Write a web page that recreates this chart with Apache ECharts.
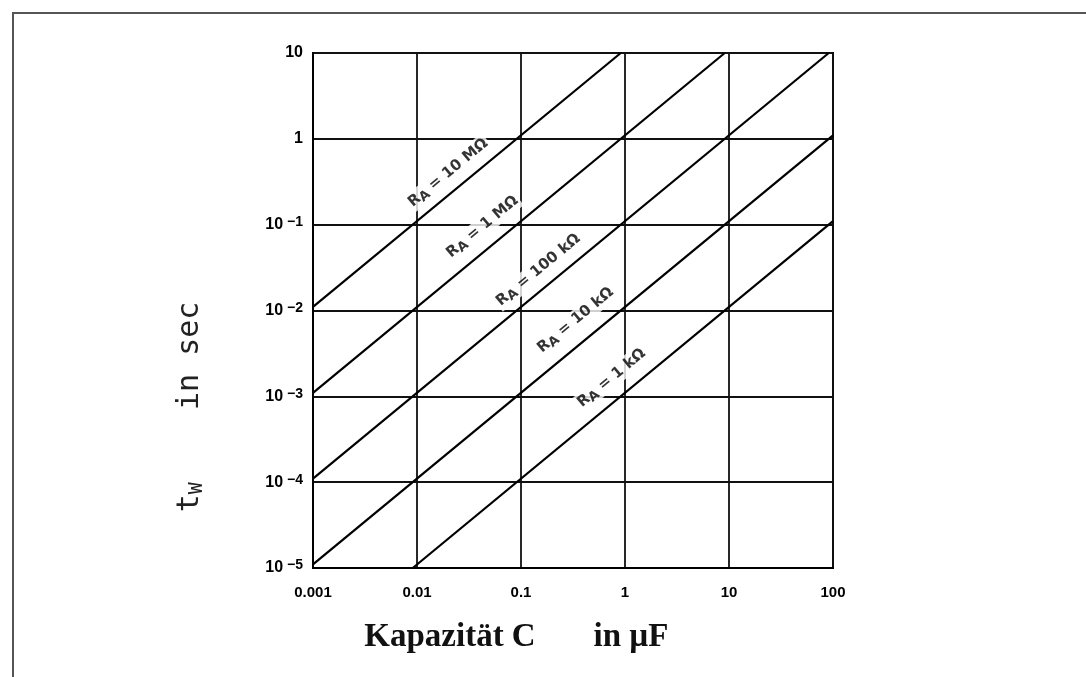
<!DOCTYPE html>
<html>
<head>
<meta charset="utf-8">
<script src="https://cdn.jsdelivr.net/npm/echarts@6/dist/echarts.min.js"></script>
<style>
html,body{margin:0;padding:0;background:#fff;}
#chart{width:1086px;height:677px;}
</style>
</head>
<body>
<div id="chart"></div>
<script>
// ---- data ----
const xTickValues = [0.001, 0.01, 0.1, 1, 10, 100];
const xTickLabels = ['0.001', '0.01', '0.1', '1', '10', '100'];
const yTickExponents = [-5, -4, -3, -2, -1, 0, 1];
const yTickLabels = ['10|−5', '10|−4', '10|−3', '10|−2', '10|−1', '1', '10'];

const seriesNames = ['10 MΩ', '1 MΩ', '100 kΩ', '10 kΩ', '1 kΩ'];
// [capacitance µF, time s] endpoints
const line10M = [[0.001, 0.011], [0.91, 10]];
const line1M = [[0.001, 0.0011], [9.1, 10]];
const line100k = [[0.001, 0.00011], [91, 10]];
const line10k = [[0.001, 0.000011], [100, 1.1]];
const line1k = [[0.0091, 0.00001], [100, 0.11]];
const lineData = [line10M, line1M, line100k, line10k, line1k];

// label anchor points (µF, s)
const labelPoints = [[0.0199, 0.40], [0.0425, 0.094], [0.147, 0.0296], [0.334, 0.0077], [0.743, 0.00163]];

const chart = echarts.init(document.getElementById('chart'));

const lineSeries = lineData.map((d, i) => ({
  name: seriesNames[i],
  type: 'line',
  data: d,
  symbol: 'none',
  silent: true,
  lineStyle: { color: '#000', width: 2.2 },
  z: 3
}));

const labelSeries = {
  type: 'scatter',
  symbolSize: 0,
  silent: true,
  itemStyle: { color: '#fff' },
  data: labelPoints.map((p, i) => ({ value: p, name: seriesNames[i] })),
  label: {
    show: true,
    position: 'inside',
    rotate: 39.6,
    fontFamily: 'DejaVu Sans', fontWeight: 'bold', fontSize: 15, color: '#000',
    textBorderWidth: 0, textBorderColor: 'transparent',
    formatter: p => '{r|R}{s|A}{r| = ' + p.name + '}',
    rich: {
      r: { fontFamily: 'DejaVu Sans', fontWeight: 'bold', fontSize: 15, color: '#000', textBorderWidth: 0 },
      s: { fontFamily: 'DejaVu Sans', fontWeight: 'bold', fontSize: 13, color: '#000', textBorderWidth: 0, padding: [6, 0, 0, 0] }
    },
    backgroundColor: '#fff',
    padding: [0, 2]
  },
  z: 5
};

const option = {
  backgroundColor: '#fff',
  animation: false,
  grid: {
    left: 313, right: 253, top: 53, bottom: 109,
    show: true, borderColor: '#000', borderWidth: 2, containLabel: false
  },
  xAxis: {
    type: 'log', logBase: 10, min: 0.001, max: 100, splitNumber: 5,
    axisLine: { show: true, lineStyle: { color: '#000', width: 2 } },
    axisTick: { show: false },
    splitLine: { show: true, lineStyle: { color: '#111', width: 1.8 } },
    axisLabel: {
      margin: 17,
      fontFamily: 'Liberation Sans', fontWeight: 'bold', fontSize: 15, color: '#000',
      formatter: v => {
        const i = xTickValues.findIndex(t => Math.abs(Math.log10(t) - Math.log10(v)) < 1e-6);
        return i >= 0 ? xTickLabels[i] : '';
      }
    }
  },
  yAxis: {
    type: 'log', logBase: 10, min: 0.00001, max: 10, splitNumber: 6,
    axisLine: { show: true, lineStyle: { color: '#000', width: 2 } },
    axisTick: { show: false },
    splitLine: { show: true, lineStyle: { color: '#111', width: 1.8 } },
    axisLabel: {
      margin: 10,
      color: '#000',
      formatter: v => {
        const e = Math.round(Math.log10(v));
        const i = yTickExponents.indexOf(e);
        if (i < 0) return '';
        const parts = yTickLabels[i].split('|');
        return parts.length > 1 ? '{b|' + parts[0] + '}{e|' + parts[1] + '}' : '{b|' + parts[0] + '}';
      },
      rich: {
        b: { fontFamily: 'Liberation Sans', fontWeight: 'bold', fontSize: 16, color: '#000' },
        e: { fontFamily: 'Liberation Sans', fontWeight: 'bold', fontSize: 14, color: '#000', padding: [0, 0, 5, 4] }
      }
    }
  },
  series: lineSeries.concat([labelSeries]),
  graphic: [
    { type: 'line', shape: { x1: 13, y1: 12, x2: 13, y2: 677 }, style: { stroke: '#555', lineWidth: 2 } },
    { type: 'line', shape: { x1: 12, y1: 13, x2: 1086, y2: 13 }, style: { stroke: '#555', lineWidth: 2 } },
    {
      type: 'text', x: 190, y: 407, rotation: Math.PI / 2,
      style: {
        text: '{t|t}{w|W}{t|    in sec}',
        align: 'center', verticalAlign: 'middle',
        rich: {
          t: { fontFamily: 'DejaVu Sans Mono', fontSize: 30, fill: '#222' },
          w: { fontFamily: 'DejaVu Sans Mono', fontSize: 20, fill: '#222', padding: [14, 0, 0, 0] }
        }
      }
    },
    {
      type: 'text', x: 450, y: 637,
      style: {
        text: 'Kapazität C',
        align: 'center', verticalAlign: 'middle',
        font: 'bold 33px "Liberation Serif"',
        fill: '#111'
      }
    },
    {
      type: 'text', x: 631, y: 637,
      style: {
        text: 'in µF',
        align: 'center', verticalAlign: 'middle',
        font: 'bold 33px "Liberation Serif"',
        fill: '#111'
      }
    }
  ]
};
chart.setOption(option);
</script>
</body>
</html>
